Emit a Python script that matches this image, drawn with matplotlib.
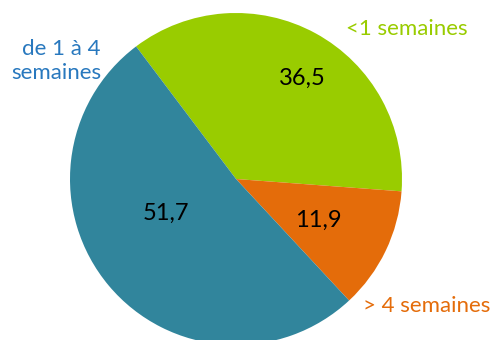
import matplotlib
matplotlib.use("Agg")
import matplotlib.pyplot as plt

categories = ["<1 semaines", "> 4 semaines", "de 1 à 4\nsemaines"]
values = [36.5, 11.9, 51.7]
value_labels = ["36,5", "11,9", "51,7"]
colors = ["#99CC00", "#E46C0A", "#31859C"]
label_colors = ["#99CC00", "#E46C0A", "#2878BE"]

plt.rcParams["font.family"] = ["Lato", "DejaVu Sans"]

fig = plt.figure(figsize=(4.96, 3.4), dpi=100)
ax = fig.add_axes([0, 0, 1, 1])

cx, cy, r = 236, 161, 166
wedges, _ = ax.pie(values, colors=colors, startangle=127, counterclock=False,
                   center=(cx, cy), radius=r, frame=True,
                   wedgeprops=dict(linewidth=0))
ax.set_xlim(0, 496)
ax.set_ylim(0, 340)
ax.axis("off")

# value labels inside the slices
val_pos = [(302, 262), (318, 120), (166, 127)]
for (x, y), t in zip(val_pos, value_labels):
    ax.text(x, y, t, ha="center", va="center", fontsize=17, color="black")

# category labels outside
ax.text(407, 311, categories[0], ha="center", va="center", fontsize=16, color=label_colors[0])
ax.text(427, 34, categories[1], ha="center", va="center", fontsize=16, color=label_colors[1])
ax.text(101, 279, categories[2], ha="right", va="center", fontsize=16, color=label_colors[2],
        linespacing=1.25)

fig.savefig("out.png", dpi=100)
